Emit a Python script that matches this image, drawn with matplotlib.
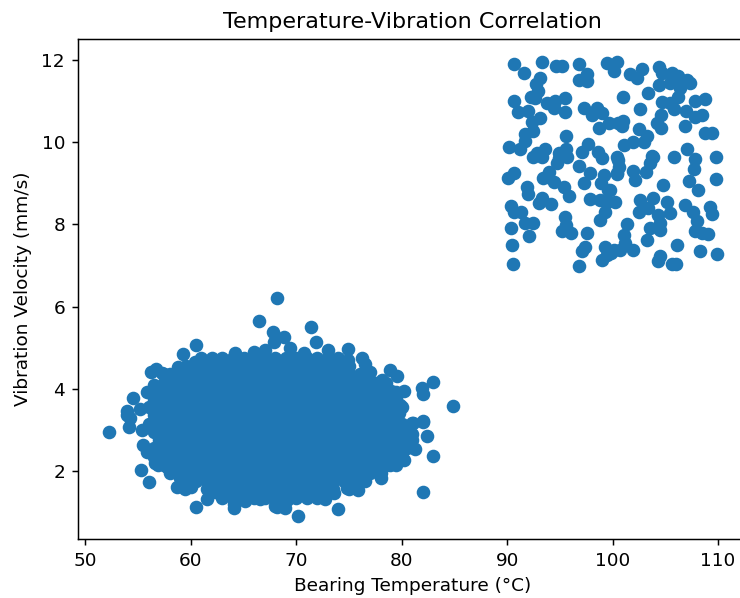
import matplotlib
matplotlib.use("Agg")
import matplotlib.pyplot as plt
import numpy as np

# upper right group, read point by point
fault_points = [
    (90.7, 11.89), (91.6, 11.69), (93.3, 11.94), (94.6, 11.86), (95.25, 11.86), (96.85, 11.9),
    (97.55, 11.67), (96.85, 11.51), (97.6, 11.49), (93.1, 11.57), (92.7, 11.41), (92.9, 11.25),
    (92.25, 11.11), (92.65, 11.07), (90.7, 11.01), (91.0, 10.74), (92.0, 10.76), (93.1, 10.6),
    (92.4, 10.48), (92.5, 10.27), (91.65, 10.19), (91.7, 10.03), (90.2, 9.89), (91.2, 9.84),
    (95.6, 10.16), (93.75, 10.95), (94.55, 10.99), (95.5, 11.08), (94.4, 10.82), (95.5, 10.74),
    (97.25, 10.82), (98.05, 10.66), (98.55, 10.82), (99.0, 10.72), (98.75, 10.35), (99.7, 10.46),
    (100.55, 10.46), (97.7, 9.95), (97.1, 9.77), (98.65, 9.77), (95.6, 9.83), (94.9, 9.73),
    (93.6, 9.83), (92.8, 9.73), (99.5, 11.92), (100.15, 11.72), (100.45, 11.96),
    (101.65, 11.66), (102.3, 11.57), (102.75, 11.78), (104.45, 11.84), (104.65, 11.68),
    (105.6, 11.68), (106.25, 11.6), (107.1, 11.51), (107.35, 11.43), (104.45, 11.39),
    (105.45, 11.45), (103.4, 11.2), (101.0, 11.11), (106.4, 11.31), (106.25, 11.11),
    (104.65, 10.97), (105.45, 10.95), (105.85, 10.81), (107.8, 11.01), (108.75, 11.05),
    (102.6, 10.81), (107.0, 10.76), (107.8, 10.62), (108.45, 10.65), (104.55, 10.66),
    (104.2, 10.46), (104.55, 10.34), (106.85, 10.39), (101.0, 10.52), (100.85, 10.39),
    (102.5, 10.32), (103.25, 10.14), (103.0, 10.0), (101.9, 10.01), (101.1, 9.93),
    (108.75, 10.22), (109.4, 10.22), (107.1, 9.83), (100.45, 9.63), (103.75, 9.67),
    (105.85, 9.63), (107.8, 9.59), (109.8, 9.63),
    (90.05, 9.12), (90.65, 9.24), (91.9, 8.92), (92.0, 8.73), (93.4, 9.12), (94.0, 9.28),
    (94.4, 9.04), (93.9, 9.16), (92.5, 9.65), (93.3, 9.65), (94.9, 9.61), (95.65, 9.65),
    (94.7, 9.49), (96.85, 9.43), (97.85, 9.24), (97.3, 9.0), (99.0, 9.61), (99.2, 9.2),
    (98.9, 9.0), (99.6, 8.84), (100.4, 9.24), (95.35, 8.92), (95.9, 8.68), (93.3, 8.65),
    (93.05, 8.51), (94.15, 8.49), (90.35, 8.45), (90.65, 8.3), (91.3, 8.31), (95.5, 8.19),
    (91.7, 8.03), (92.45, 8.04), (90.35, 7.92), (92.1, 7.72), (95.6, 7.99), (95.2, 7.84),
    (96.05, 7.78), (97.6, 7.8), (97.85, 8.61), (98.8, 8.6), (99.45, 8.55), (100.25, 8.55),
    (99.3, 8.31), (98.8, 8.11), (90.5, 7.5), (97.4, 7.46), (97.1, 7.34), (99.3, 7.46),
    (100.1, 7.38), (99.45, 7.26), (99.0, 7.13), (90.6, 7.03), (96.85, 6.99),
    (100.55, 9.57), (100.65, 9.4), (100.45, 9.23), (101.9, 9.31), (102.15, 9.08),
    (103.15, 9.27), (103.55, 9.49), (103.85, 9.65), (107.75, 9.34), (107.25, 9.06),
    (108.15, 8.84), (109.8, 9.1), (104.8, 8.96), (99.75, 8.84), (102.6, 8.6), (103.85, 8.64),
    (105.15, 8.55), (102.55, 8.29), (103.4, 8.39), (105.45, 8.27), (104.35, 8.23),
    (106.85, 8.46), (107.65, 8.29), (109.25, 8.42), (109.4, 8.25), (108.0, 8.07), (104.5, 8.03),
    (101.4, 8.0), (103.55, 7.9), (104.5, 7.86), (101.1, 7.74), (107.8, 7.84), (108.45, 7.78),
    (109.1, 7.76), (103.3, 7.62), (106.1, 7.5), (101.2, 7.54), (101.9, 7.38), (100.7, 7.38),
    (99.9, 7.3), (108.25, 7.34), (109.95, 7.27), (104.5, 7.22), (104.3, 7.11), (105.6, 7.03),
    (106.05, 7.03),
]

# lower left group, points around the outline of the blob
normal_edge_points = [
    (68.15, 6.2), (66.43, 5.65), (67.8, 5.39), (60.52, 5.07), (59.25, 4.84), (58.75, 4.54),
    (56.7, 4.48), (56.25, 4.4), (57.3, 4.38), (54.5, 3.78), (55.8, 3.91), (55.15, 3.51),
    (53.95, 3.46), (54.2, 3.28), (56.5, 4.09), (60.4, 4.66), (61.3, 4.66), (62.8, 4.68),
    (64.2, 4.86), (65.95, 4.9), (67.05, 4.94), (67.85, 5.15),
    (71.4, 5.51), (68.85, 5.27), (71.9, 5.15), (73.05, 4.94), (74.95, 4.97), (76.25, 4.74),
    (76.55, 4.6), (78.9, 4.46), (79.55, 4.3), (83.0, 4.16), (81.9, 4.01), (82.0, 3.87),
    (80.2, 3.95), (79.5, 3.91), (84.85, 3.57), (78.1, 4.21), (74.95, 4.7), (70.7, 4.86),
    (79.85, 3.61), (79.7, 3.4), (80.95, 3.16), (82.05, 3.22), (69.4, 5.0),
    (52.2, 2.94), (54.1, 3.08), (53.95, 3.36), (55.35, 3.0), (55.5, 2.63), (55.85, 2.47),
    (55.25, 2.02), (56.0, 1.74), (56.65, 2.2), (57.75, 2.1), (58.7, 1.6), (59.45, 1.55),
    (59.0, 1.82), (60.5, 1.13), (61.55, 1.33), (62.3, 1.5), (64.1, 1.09), (64.05, 1.2),
    (65.15, 1.28), (66.6, 1.31), (68.15, 1.13), (63.1, 1.54),
    (82.0, 3.18), (81.05, 3.16), (82.4, 2.85), (81.3, 2.53), (82.93, 2.36), (80.2, 2.27),
    (78.85, 2.15), (78.05, 1.82), (82.0, 1.5), (75.8, 1.68), (75.9, 1.54), (74.8, 1.58),
    (73.55, 1.46), (72.7, 1.31), (73.95, 1.07), (71.5, 1.5), (70.15, 1.46), (70.15, 0.91),
    (68.95, 1.09), (68.0, 1.15), (69.1, 1.3), (81.0, 2.9),
    # gaps left along the rim of the blob
    (78.5, 4.15), (79.0, 3.95), (79.5, 3.75), (80.0, 3.55), (79.5, 3.35), (79.5, 2.15),
    (78.0, 1.95), (76.5, 1.75), (56.5, 2.35), (56.9, 2.15), (58.0, 1.95), (59.5, 1.75),
    (61.5, 1.55), (63.0, 1.35), (64.0, 1.35), (72.0, 1.35), (59.5, 4.55), (57.5, 4.35),
    (61.0, 4.75), (74.0, 4.75), (60.0, 1.6), (77.0, 4.4), (75.0, 1.55),
]

# solid middle of the blob: individual points can't be told apart there
core_vib = [4.75, 4.55, 4.35, 4.15, 3.95, 3.75, 3.55, 3.35, 3.15, 2.95, 2.75, 2.55, 2.35, 2.15, 1.95, 1.75, 1.55, 1.35]
core_temp = [
    [62, 63, 64, 65, 66, 67, 68, 69, 70, 71, 72, 73],
    [60.5, 61.5, 62.5, 63.5, 64.5, 65.5, 66.5, 67.5, 68.5, 69.5, 70.5, 71.5, 72.5, 73.5, 74.5, 75],
    [58, 59, 60, 61, 62, 63, 64, 65, 66, 67, 68, 69, 70, 71, 72, 73, 74, 75, 76],
    [57.5, 58.5, 59.5, 60.5, 61.5, 62.5, 63.5, 64.5, 65.5, 66.5, 67.5, 68.5, 69.5, 70.5, 71.5, 72.5, 73.5, 74.5, 75.5, 76.5, 77.5],
    [57, 58, 59, 60, 61, 62, 63, 64, 65, 66, 67, 68, 69, 70, 71, 72, 73, 74, 75, 76, 77, 78],
    [56.5, 57.5, 58.5, 59.5, 60.5, 61.5, 62.5, 63.5, 64.5, 65.5, 66.5, 67.5, 68.5, 69.5, 70.5, 71.5, 72.5, 73.5, 74.5, 75.5, 76.5, 77.5, 78.5],
    [56, 57, 58, 59, 60, 61, 62, 63, 64, 65, 66, 67, 68, 69, 70, 71, 72, 73, 74, 75, 76, 77, 78, 79],
    [56.5, 57.5, 58.5, 59.5, 60.5, 61.5, 62.5, 63.5, 64.5, 65.5, 66.5, 67.5, 68.5, 69.5, 70.5, 71.5, 72.5, 73.5, 74.5, 75.5, 76.5, 77.5, 78.5],
    [56, 57, 58, 59, 60, 61, 62, 63, 64, 65, 66, 67, 68, 69, 70, 71, 72, 73, 74, 75, 76, 77, 78, 79, 80],
    [56.5, 57.5, 58.5, 59.5, 60.5, 61.5, 62.5, 63.5, 64.5, 65.5, 66.5, 67.5, 68.5, 69.5, 70.5, 71.5, 72.5, 73.5, 74.5, 75.5, 76.5, 77.5, 78.5, 79.5, 80.5],
    [57, 58, 59, 60, 61, 62, 63, 64, 65, 66, 67, 68, 69, 70, 71, 72, 73, 74, 75, 76, 77, 78, 79, 80, 81],
    [56.5, 57.5, 58.5, 59.5, 60.5, 61.5, 62.5, 63.5, 64.5, 65.5, 66.5, 67.5, 68.5, 69.5, 70.5, 71.5, 72.5, 73.5, 74.5, 75.5, 76.5, 77.5, 78.5, 79.5, 80.5],
    [57, 58, 59, 60, 61, 62, 63, 64, 65, 66, 67, 68, 69, 70, 71, 72, 73, 74, 75, 76, 77, 78, 79, 80],
    [57.5, 58.5, 59.5, 60.5, 61.5, 62.5, 63.5, 64.5, 65.5, 66.5, 67.5, 68.5, 69.5, 70.5, 71.5, 72.5, 73.5, 74.5, 75.5, 76.5, 77.5, 78.5],
    [59, 60, 61, 62, 63, 64, 65, 66, 67, 68, 69, 70, 71, 72, 73, 74, 75, 76, 77],
    [60.5, 61.5, 62.5, 63.5, 64.5, 65.5, 66.5, 67.5, 68.5, 69.5, 70.5, 71.5, 72.5, 73.5, 74.5, 75.5],
    [62.5, 63.5, 64.5, 65.5, 66.5, 67.5, 68.5, 69.5, 70.5, 71.5, 72.5, 73.5],
    [65, 66, 67, 68, 69, 70, 71],
]

temp = [p[0] for p in fault_points] + [p[0] for p in normal_edge_points]
vib = [p[1] for p in fault_points] + [p[1] for p in normal_edge_points]
for row_vib, row_temp in zip(core_vib, core_temp):
    temp += row_temp
    vib += [row_vib] * len(row_temp)

# reference looks like a default 640x480 figure scaled up and cropped on the right
fig, ax = plt.subplots(figsize=(740 / 133.5, 598 / 133.5), dpi=133.5)
ax.scatter(np.array(temp), np.array(vib), s=40)
ax.set_xlim(49.3, 112.8)
ax.set_ylim(0.345, 12.51)
ax.set_xticks([50, 60, 70, 80, 90, 100, 110])
ax.set_yticks([2, 4, 6, 8, 10, 12])
ax.set_xlabel("Bearing Temperature (°C)")
ax.set_ylabel("Vibration Velocity (mm/s)", labelpad=5)
ax.set_title("Temperature-Vibration Correlation")
# axes run past the right edge so the right spine falls outside the picture
ax.set_position([78 / 740, 1 - 539 / 598, (747.5 - 78) / 740, (539 - 39) / 598])
fig.savefig("out.png", dpi=133.5)
plt.close(fig)
